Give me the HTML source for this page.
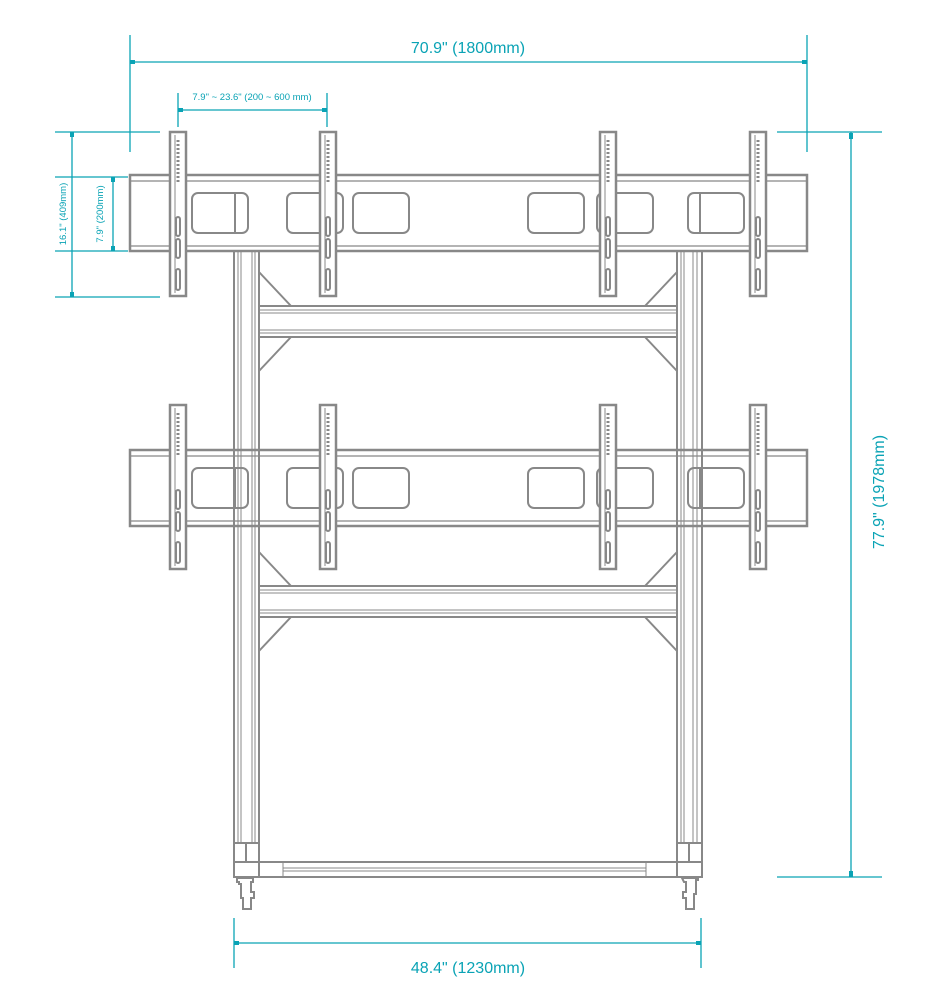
<!DOCTYPE html>
<html><head><meta charset="utf-8"><style>
html,body{margin:0;padding:0;background:#fff;width:936px;height:1002px;overflow:hidden}
svg{display:block}
text{font-family:"Liberation Sans",sans-serif;fill:#0aa3b5}
</style></head><body>
<svg width="936" height="1002" viewBox="0 0 936 1002" xmlns="http://www.w3.org/2000/svg">
<defs>
  <g id="bracket" fill="none" stroke="#888" stroke-width="2">
    <rect x="0" y="0" width="16" height="164" fill="#fff" stroke-width="2.5"/>
    <line x1="5" y1="3" x2="5" y2="161" stroke-width="1"/>
    <line x1="8" y1="8" x2="8" y2="52" stroke-dasharray="2,2" stroke-width="3"/>
    <rect x="6" y="85" width="4" height="19" rx="2"/>
    <rect x="6" y="107" width="4" height="19" rx="2"/>
    <rect x="6" y="137" width="4" height="21" rx="2"/>
  </g>
  <g id="beam" fill="none" stroke="#888">
    <rect x="130" y="0" width="677" height="76" stroke-width="2.5"/>
    <line x1="130" y1="6" x2="807" y2="6" stroke-width="1.2"/>
    <line x1="130" y1="71" x2="807" y2="71" stroke-width="1.2"/>
    <rect x="192" y="18" width="56" height="40" rx="6" stroke-width="2"/>
    <line x1="235" y1="18" x2="235" y2="58" stroke-width="2"/>
    <rect x="287" y="18" width="56" height="40" rx="6" stroke-width="2"/>
    <rect x="353" y="18" width="56" height="40" rx="6" stroke-width="2"/>
    <rect x="528" y="18" width="56" height="40" rx="6" stroke-width="2"/>
    <rect x="597" y="18" width="56" height="40" rx="6" stroke-width="2"/>
    <rect x="688" y="18" width="56" height="40" rx="6" stroke-width="2"/>
    <line x1="700" y1="18" x2="700" y2="58" stroke-width="2"/>
  </g>
  <g id="cross" fill="none" stroke="#888">
    <line x1="259" y1="0" x2="677" y2="0" stroke-width="2"/>
    <line x1="259" y1="4" x2="677" y2="4" stroke-width="1"/>
    <line x1="259" y1="7" x2="677" y2="7" stroke-width="1"/>
    <line x1="259" y1="24" x2="677" y2="24" stroke-width="1"/>
    <line x1="259" y1="27" x2="677" y2="27" stroke-width="1"/>
    <line x1="259" y1="31" x2="677" y2="31" stroke-width="2"/>
    <line x1="259" y1="-34" x2="291" y2="0" stroke-width="2"/>
    <line x1="259" y1="65" x2="291" y2="31" stroke-width="2"/>
    <line x1="677" y1="-34" x2="645" y2="0" stroke-width="2"/>
    <line x1="677" y1="65" x2="645" y2="31" stroke-width="2"/>
  </g>
</defs>

<!-- columns -->
<g fill="none" stroke="#888">
  <line x1="234" y1="250" x2="234" y2="878" stroke-width="2"/>
  <line x1="238" y1="250" x2="238" y2="843" stroke-width="1"/>
  <line x1="241" y1="250" x2="241" y2="843" stroke-width="1"/>
  <line x1="252" y1="250" x2="252" y2="843" stroke-width="1"/>
  <line x1="255" y1="250" x2="255" y2="843" stroke-width="1"/>
  <line x1="259" y1="250" x2="259" y2="862" stroke-width="2"/>
  <line x1="677" y1="250" x2="677" y2="862" stroke-width="2"/>
  <line x1="681" y1="250" x2="681" y2="843" stroke-width="1"/>
  <line x1="684" y1="250" x2="684" y2="843" stroke-width="1"/>
  <line x1="693" y1="250" x2="693" y2="843" stroke-width="1"/>
  <line x1="697" y1="250" x2="697" y2="843" stroke-width="1"/>
  <line x1="702" y1="250" x2="702" y2="878" stroke-width="2"/>
</g>

<use href="#cross" x="0" y="306"/>
<use href="#cross" x="0" y="586"/>

<use href="#beam" x="0" y="175"/>
<use href="#beam" x="0" y="450"/>

<use href="#bracket" x="170" y="132"/>
<use href="#bracket" x="320" y="132"/>
<use href="#bracket" x="600" y="132"/>
<use href="#bracket" x="750" y="132"/>
<use href="#bracket" x="170" y="405"/>
<use href="#bracket" x="320" y="405"/>
<use href="#bracket" x="600" y="405"/>
<use href="#bracket" x="750" y="405"/>

<!-- base -->
<g fill="none" stroke="#888" stroke-width="2">
  <rect x="234" y="843" width="25" height="19"/>
  <line x1="246" y1="843" x2="246" y2="862"/>
  <rect x="677" y="843" width="25" height="19"/>
  <line x1="689" y1="843" x2="689" y2="862"/>
  <rect x="234" y="862" width="468" height="15"/>
  <line x1="259" y1="862" x2="259" y2="877"/>
  <line x1="677" y1="862" x2="677" y2="877"/>
  <line x1="283" y1="862" x2="283" y2="877" stroke-width="1"/>
  <line x1="646" y1="862" x2="646" y2="877" stroke-width="1"/>
  <line x1="283" y1="868" x2="646" y2="868" stroke-width="1"/>
  <line x1="283" y1="871" x2="646" y2="871" stroke-width="1"/>
  <path d="M237 878 h16 v4 h-2 v10 h3 v6 h-3 v11 h-8 v-11 h-2 v-14 h-2 v-2 h-2z"/>
  <path d="M682 878 h16 v2 h-2 v14 h-2 v15 h-8 v-11 h-3 v-6 h3 v-10 h-2z"/>
</g>

<!-- dimensions -->
<g stroke="#0aa3b5" stroke-width="1.3" fill="none">
  <line x1="130" y1="35" x2="130" y2="152"/>
  <line x1="807" y1="35" x2="807" y2="152"/>
  <line x1="130" y1="62" x2="807" y2="62"/>
  <line x1="178" y1="93" x2="178" y2="127"/>
  <line x1="327" y1="93" x2="327" y2="127"/>
  <line x1="178" y1="110" x2="327" y2="110"/>
  <line x1="55" y1="132" x2="160" y2="132"/>
  <line x1="55" y1="297" x2="160" y2="297"/>
  <line x1="55" y1="177" x2="128" y2="177"/>
  <line x1="55" y1="251" x2="128" y2="251"/>
  <line x1="72" y1="132" x2="72" y2="297"/>
  <line x1="113" y1="177" x2="113" y2="251"/>
  <line x1="777" y1="132" x2="882" y2="132"/>
  <line x1="777" y1="877" x2="882" y2="877"/>
  <line x1="851" y1="132" x2="851" y2="877"/>
  <line x1="234" y1="918" x2="234" y2="968"/>
  <line x1="701" y1="918" x2="701" y2="968"/>
  <line x1="234" y1="943" x2="701" y2="943"/>
</g>
<g fill="#0aa3b5">
  <rect x="130" y="60" width="5" height="4"/><rect x="802" y="60" width="5" height="4"/>
  <rect x="178" y="108" width="5" height="4"/><rect x="322" y="108" width="5" height="4"/>
  <rect x="70" y="132" width="4" height="5"/><rect x="70" y="292" width="4" height="5"/>
  <rect x="111" y="177" width="4" height="5"/><rect x="111" y="246" width="4" height="5"/>
  <rect x="849" y="133" width="4" height="6"/><rect x="849" y="871" width="4" height="6"/>
  <rect x="234" y="941" width="5" height="4"/><rect x="696" y="941" width="5" height="4"/>
</g>
<text x="468" y="53" font-size="16" text-anchor="middle">70.9" (1800mm)</text>
<text x="252" y="100" font-size="9.5" text-anchor="middle">7.9" ~ 23.6" (200 ~ 600 mm)</text>
<text x="468" y="973" font-size="16" text-anchor="middle">48.4" (1230mm)</text>
<text transform="translate(66,214) rotate(-90)" font-size="9.5" text-anchor="middle">16.1" (409mm)</text>
<text transform="translate(103,214) rotate(-90)" font-size="9.5" text-anchor="middle">7.9" (200mm)</text>
<text transform="translate(884,492) rotate(-90)" font-size="16" text-anchor="middle">77.9" (1978mm)</text>
</svg>
</body></html>
